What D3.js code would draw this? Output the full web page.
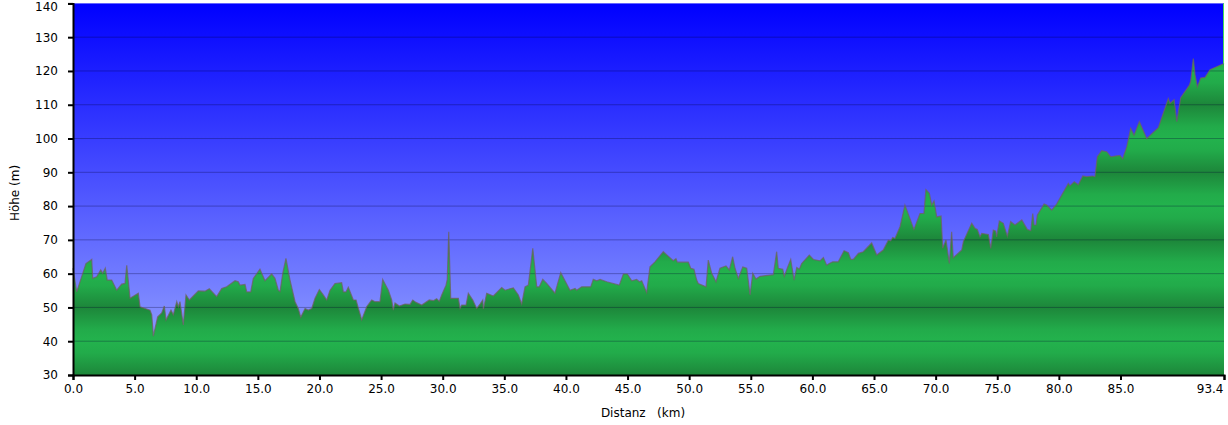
<!DOCTYPE html>
<html>
<head>
<meta charset="utf-8">
<script src="https://cdn.jsdelivr.net/npm/d3@7"></script>
<style>
  html, body { margin: 0; padding: 0; background: #fff; }
  svg { display: block; }
  text { font-family: "DejaVu Sans", Verdana, sans-serif; }
</style>
</head>
<body>
<svg id="chart" width="1228" height="425"></svg>
<script>
// Distance along the route (km)
const dist = [
  0.00,0.30,1.05,1.52,1.60,1.92,2.25,2.41,2.62,2.78,3.14,3.55,3.95,4.22,4.36,4.63,5.30,5.44,6.25,6.39,
  6.52,6.87,7.20,7.41,7.55,7.95,8.14,8.42,8.55,8.68,8.95,9.17,9.44,10.17,10.71,11.06,11.66,12.07,12.47,13.15,
  13.41,13.55,13.96,14.10,14.42,14.63,15.17,15.58,16.12,16.39,16.66,16.80,17.02,17.28,17.61,18.02,18.28,18.48,18.83,19.09,
  19.37,19.64,19.99,20.31,20.59,20.86,21.26,21.80,21.94,22.15,22.34,22.75,22.97,23.43,23.83,24.24,24.51,24.91,25.13,25.59,
  25.86,25.99,26.13,26.48,26.94,27.35,27.57,27.83,28.30,28.91,29.24,29.51,29.72,29.92,30.27,30.37,30.49,30.65,31.27,31.41,
  31.54,31.89,32.08,32.44,32.76,33.03,33.25,33.30,33.57,34.11,34.79,35.06,35.73,36.14,36.41,36.68,36.95,37.31,37.63,37.84,
  38.12,38.44,39.11,39.58,40.33,40.74,40.87,41.28,41.55,42.01,42.22,42.50,42.77,43.31,44.33,44.66,44.98,45.34,45.74,45.96,
  46.15,46.55,46.82,47.23,47.90,48.71,48.93,49.04,49.93,50.13,50.39,50.61,50.74,51.37,51.55,51.83,52.18,52.50,52.99,53.26,
  53.53,53.72,53.99,54.35,54.67,54.94,55.16,55.42,55.75,56.83,57.10,57.23,57.59,57.72,57.96,58.24,58.51,58.73,58.94,59.13,
  59.75,60.08,60.62,60.89,61.16,61.37,61.65,62.10,62.57,62.92,63.11,63.32,63.73,64.13,64.81,65.22,65.75,66.16,66.35,66.52,
  66.70,67.11,67.51,68.24,68.73,69.05,69.21,69.49,69.68,69.87,70.09,70.44,70.58,70.84,71.11,71.30,71.43,72.12,72.25,72.93,
  73.20,73.38,73.60,73.74,74.28,74.47,74.68,74.87,74.95,75.17,75.49,75.82,76.09,76.44,76.99,77.44,77.72,77.88,77.99,78.15,
  78.25,78.80,79.01,79.42,79.82,80.77,80.90,81.25,81.58,81.94,82.26,82.75,82.93,83.12,83.48,83.88,84.21,84.56,84.96,85.18,
  85.51,85.83,86.10,86.53,87.13,88.07,88.88,89.02,89.35,89.57,89.89,90.59,90.70,90.91,91.05,91.24,91.51,91.86,92.27,93.40
];
// Elevation (m)
const elev = [
  61.6,54.6,63.0,64.2,58.6,59.1,61.1,60.1,61.6,58.1,58.1,55.1,56.9,57.1,62.5,52.7,54.2,50.2,49.2,47.8,
  41.5,47.2,48.4,50.4,46.3,49.2,47.8,51.7,50.2,51.7,44.8,53.7,52.2,54.9,54.8,55.5,53.2,55.6,56.1,57.9,
  57.6,56.6,56.8,54.6,54.6,58.6,61.3,57.9,59.9,58.6,55.1,54.7,60.1,64.5,58.1,51.7,49.7,47.1,49.7,49.2,
  49.7,52.7,55.3,53.7,52.2,55.1,57.1,57.3,54.6,54.6,56.0,52.2,52.2,46.3,50.2,52.2,51.7,51.7,58.3,55.1,
  52.2,49.2,51.3,50.4,51.0,50.9,52.2,51.5,50.7,52.2,52.0,52.6,51.8,53.7,56.6,58.3,72.4,52.7,52.7,49.7,
  50.7,50.7,54.2,52.2,49.7,51.0,52.2,49.5,54.2,53.4,55.9,55.1,55.8,53.7,51.0,56.1,56.6,67.5,56.1,56.1,
  58.3,57.1,54.2,60.3,55.1,55.6,55.1,56.1,56.1,56.1,58.3,57.9,58.3,57.6,56.6,59.9,59.9,57.9,58.3,57.6,
  57.9,54.4,62.0,63.5,66.5,63.8,64.4,63.4,63.4,61.6,61.3,58.1,57.1,56.1,64.0,60.1,57.6,61.6,62.3,61.1,
  65.0,61.6,58.6,62.0,61.6,53.7,60.1,58.4,59.2,59.7,66.5,61.6,61.3,59.2,61.6,64.2,58.1,61.8,61.3,63.0,
  65.5,64.2,63.8,64.8,62.5,63.0,63.5,63.5,66.8,66.2,64.2,64.2,66.0,66.5,69.1,65.5,67.0,69.9,69.7,70.7,
  70.4,73.9,80.3,73.1,77.8,77.8,84.9,83.8,80.3,81.5,76.8,77.1,67.5,70.0,63.0,72.4,64.7,67.0,69.5,74.9,
  73.4,73.1,70.9,71.9,71.6,67.5,72.9,72.6,70.9,75.6,74.9,71.1,75.4,74.4,75.9,73.1,72.7,77.8,74.4,74.4,
  77.3,80.6,80.3,78.8,80.6,86.7,86.0,87.2,86.3,88.9,88.7,88.9,88.7,94.6,96.4,96.1,94.6,94.8,95.0,94.0,
  97.6,103.0,101.0,105.0,100.0,103.2,111.8,110.4,111.5,105.0,112.1,115.8,117.0,123.7,118.9,115.3,117.9,118.1,120.4,122.2
];
const xTickValues = [0,5,10,15,20,25,30,35,40,45,50,55,60,65,70,75,80,85,93.4];
const yTickValues = [30,40,50,60,70,80,90,100,110,120,130,140];
const xTitle = "Distanz   (km)";
const yTitle = "Höhe (m)";

const W = 1228, H = 425;
const margin = {left: 73, right: 4, top: 3.4, bottom: 50};
const svg = d3.select("#chart");
const x = d3.scaleLinear().domain([0, 93.4]).range([margin.left, W - margin.right]);
const y = d3.scaleLinear().domain([30, 140]).range([H - margin.bottom, margin.top]);

const data = dist.map((d, i) => ({d, e: elev[i]}));
const defs = svg.append("defs");

// sky gradient
const sky = defs.append("linearGradient").attr("id", "sky")
  .attr("gradientUnits", "userSpaceOnUse")
  .attr("x1", 0).attr("x2", 0).attr("y1", y(140)).attr("y2", y(30));
sky.append("stop").attr("offset", "0%").attr("stop-color", "#0000ff");
sky.append("stop").attr("offset", "100%").attr("stop-color", "#9aa8ff");

// green banded gradient: bright at 40/60/80..., dark at 30/50/70... (reflect)
const grn = defs.append("linearGradient").attr("id", "grn")
  .attr("gradientUnits", "userSpaceOnUse")
  .attr("spreadMethod", "reflect")
  .attr("x1", 0).attr("x2", 0).attr("y1", y(40)).attr("y2", y(30));
grn.append("stop").attr("offset", "0%").attr("stop-color", "#23b24d");
grn.append("stop").attr("offset", "35%").attr("stop-color", "#22ab4a");
grn.append("stop").attr("offset", "100%").attr("stop-color", "#1d863a");

const x0 = x(0), x1 = x(93.4), yTop = y(140), yBot = y(30);

svg.append("rect").attr("x", x0).attr("y", yTop)
  .attr("width", x1 - x0).attr("height", yBot - yTop).attr("fill", "url(#sky)");

const area = d3.area().x(d => x(d.d)).y0(y(30)).y1(d => y(d.e));
svg.append("path").datum(data).attr("d", area).attr("fill", "url(#grn)");

// grid lines
svg.append("g").selectAll("line").data(yTickValues.filter(v => v > 30 && v < 140)).join("line")
  .attr("x1", x0).attr("x2", x1).attr("y1", d => y(d)).attr("y2", d => y(d))
  .attr("stroke", "#000033").attr("stroke-opacity", 0.3).attr("stroke-width", 1);

// outline
const line = d3.line().x(d => x(d.d)).y(d => y(d.e));
svg.append("path").datum(data).attr("d", line)
  .attr("fill", "none").attr("stroke", "#6e6262").attr("stroke-opacity", 0.75).attr("stroke-width", 1.2);

// right edge green line
const last = data[data.length - 1];
svg.append("line").attr("x1", x1 - 0.5).attr("x2", x1 - 0.5).attr("y1", yTop).attr("y2", y(last.e))
  .attr("stroke", "#44dd55").attr("stroke-width", 1);

// axes
const yAxis = d3.axisLeft(y).tickValues(yTickValues).tickFormat(d3.format("d")).tickSize(5).tickPadding(10);
const gy = svg.append("g").attr("transform", `translate(${x0},0)`).call(yAxis);
const xAxis = d3.axisBottom(x).tickValues(xTickValues).tickFormat(d3.format(".1f")).tickSize(5).tickPadding(4);
const gx = svg.append("g").attr("transform", `translate(0,${yBot})`).call(xAxis);
[gx, gy].forEach(g => {
  g.select(".domain").attr("stroke", "#000").attr("stroke-width", 2);
  g.selectAll(".tick line").attr("stroke", "#000").attr("stroke-width", 2);
  g.selectAll(".tick text").attr("fill", "#000").style("font-size", "12px")
    .style("font-family", "'DejaVu Sans', Verdana, sans-serif");
});
// keep the edge labels inside the picture
gx.selectAll(".tick").filter(d => d === 93.4).select("text")
  .attr("text-anchor", "end").attr("dx", "-1");
gy.selectAll(".tick").filter(d => d === 140).select("text").attr("dy", "0.6em");

svg.append("text").attr("x", 643).attr("y", 417).attr("text-anchor", "middle")
  .style("font-size", "12px").style("white-space", "pre").attr("xml:space", "preserve").text(xTitle);
svg.append("text").attr("transform", `translate(19,${193}) rotate(-90)`).attr("text-anchor", "middle")
  .style("font-size", "12px").text(yTitle);
</script>
</body>
</html>
